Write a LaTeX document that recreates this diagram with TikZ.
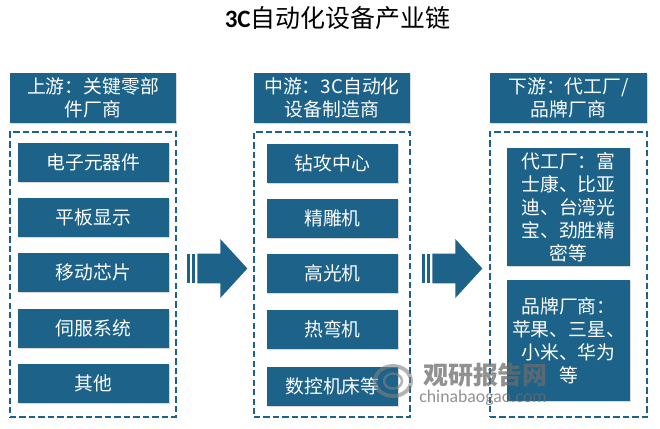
\documentclass[tikz,border=0pt]{standalone}
\usepackage{fontspec}
\setmainfont{Noto Sans CJK SC}
\newfontfamily\titlelatin{Carlito}
\usetikzlibrary{shapes,arrows,positioning,shadows}
\definecolor{chainblue}{RGB}{28,98,137}
\newcommand{\wcolon}{\symbol{"FF1A}}

\begin{document}
\begin{tikzpicture}[
    headbox/.style={rectangle, fill=chainblue, text=white, align=center, minimum height=1cm,
                    inner sep=0pt, font=\fontsize{10.7}{13.1}\selectfont,
                    drop shadow={opacity=0.3, shadow xshift=0.6pt, shadow yshift=-0.6pt}},
    itembox/.style={headbox, minimum height=0.78cm},
    textbox/.style={headbox},
    dashbox/.style={rectangle, draw=chainblue, line width=1.1pt, dash pattern=on 3.6pt off 1.8pt,
                    minimum height=5.7cm, inner sep=0pt},
    bigarrow/.style={single arrow, fill=chainblue, minimum height=1cm, minimum width=1.16cm,
                     single arrow head extend=0.29cm, single arrow tip angle=95, inner sep=0pt, anchor=tail},
    stripe/.style={rectangle, fill=chainblue, minimum height=0.58cm, minimum width=0.065cm, inner sep=0pt},
    wmtext/.style={text=gray!85!black, opacity=0.75}
]
\useasboundingbox (0, 0) rectangle (13.2, -8.56);

% Title
\node[font=\fontsize{14.2}{16}\selectfont] (title) at (6.75, -0.37) {{\titlelatin\bfseries 3C}自动化设备产业链};

% Upstream
\node[headbox, minimum width=3.32cm] (uphead) at (1.86, -1.96) {上游\wcolon 关键零部\\件厂商};
\node[dashbox, minimum width=3.32cm] (upframe) at (1.86, -5.49) {};
\node[itembox, minimum width=3.02cm] (up1) at (1.87, -3.25) {电子元器件};
\node[itembox, minimum width=3.02cm] (up2) at (1.87, -4.34) {平板显示};
\node[itembox, minimum width=3.02cm] (up3) at (1.87, -5.45) {移动芯片};
\node[itembox, minimum width=3.02cm] (up4) at (1.87, -6.57) {伺服系统};
\node[itembox, minimum width=3.02cm] (up5) at (1.87, -7.67) {其他};

% Midstream
\node[headbox, minimum width=3.12cm] (midhead) at (6.64, -1.96) {中游\wcolon 3C自动化\\设备制造商};
\node[dashbox, minimum width=3.12cm] (midframe) at (6.64, -5.49) {};
\node[itembox, minimum width=2.62cm] (mid1) at (6.65, -3.26) {钻攻中心};
\node[itembox, minimum width=2.62cm] (mid2) at (6.65, -4.36) {精雕机};
\node[itembox, minimum width=2.62cm] (mid3) at (6.65, -5.47) {高光机};
\node[itembox, minimum width=2.62cm] (mid4) at (6.65, -6.59) {热弯机};
\node[itembox, minimum width=2.62cm] (mid5) at (6.65, -7.72) {数控机床等};

% Downstream
\node[headbox, minimum width=3.14cm] (downhead) at (11.37, -1.96) {下游\wcolon 代工厂/\\品牌厂商};
\node[dashbox, minimum width=3.14cm] (downframe) at (11.37, -5.49) {};
\node[textbox, minimum width=2.46cm, minimum height=2.36cm] (down1) at (11.37, -4.14) {代工厂\wcolon 富\\士康、比亚\\迪、台湾光\\宝、劲胜精\\密等};
\node[textbox, minimum width=2.46cm, minimum height=2.42cm] (down2) at (11.37, -6.81) {品牌厂商\wcolon\\苹果、三星、\\小米、华为\\等};

% Arrows
\node[bigarrow] (arrowA) at (3.94, -5.37) {\rule{0pt}{0.58cm}};
\node[stripe] (stripeA2) at (3.87, -5.37) {};
\node[stripe] (stripeA1) at (3.77, -5.37) {};
\node[bigarrow] (arrowB) at (8.64, -5.37) {\rule{0pt}{0.58cm}};
\node[stripe] (stripeB2) at (8.57, -5.37) {};
\node[stripe] (stripeB1) at (8.47, -5.37) {};

% Watermark
\draw[gray, opacity=0.6, line width=2.2pt] (7.86, -7.62) ellipse (0.36cm and 0.3cm);
\draw[gray, opacity=0.6, line width=1.4pt] (7.86, -7.62) ellipse (0.18cm and 0.15cm);
\node[wmtext, font=\fontsize{14.2}{16}\bfseries\selectfont] (markcn) at (9.71, -7.5) {观研报告网};
\node[wmtext, font=\fontsize{10.1}{12}\selectfont] (markurl) at (9.66, -7.95) {\titlelatin chinabaogao.com};
\end{tikzpicture}
\end{document}
